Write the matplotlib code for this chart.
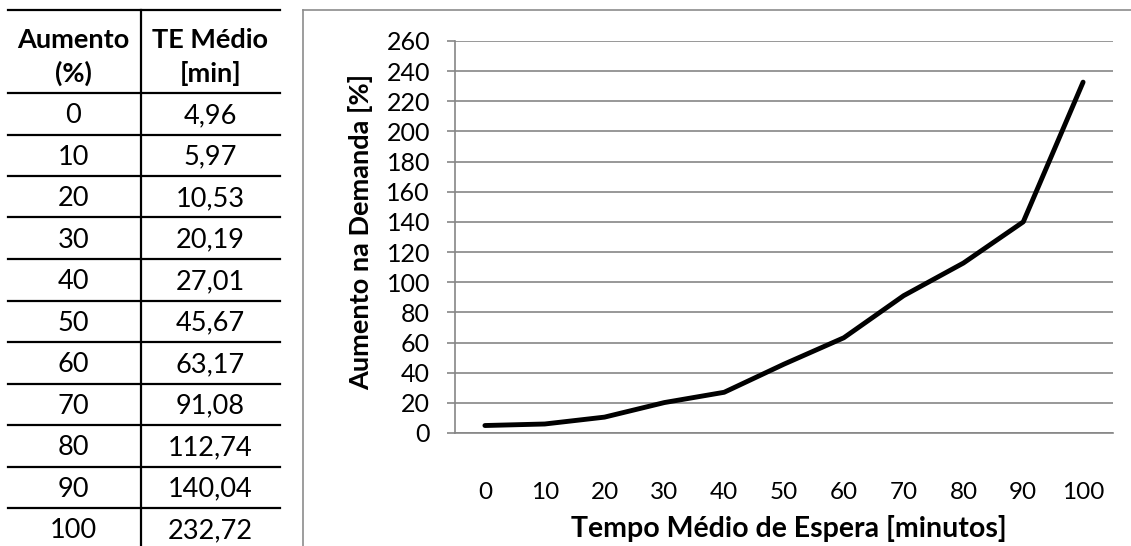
import matplotlib.pyplot as plt
from matplotlib.lines import Line2D

plt.rcParams['font.family'] = ['Lato', 'DejaVu Sans']

# Demand increase (%) and resulting mean waiting time (min)
aumento = [0, 10, 20, 30, 40, 50, 60, 70, 80, 90, 100]
te_medio = [4.96, 5.97, 10.53, 20.19, 27.01, 45.67, 63.17, 91.08, 112.74, 140.04, 232.72]
y_ticks = list(range(0, 261, 20))

W, H = 1131, 546
fig = plt.figure(figsize=(W / 100, H / 100), dpi=100)


def fx(px):
    return px / W


def fy(py):
    return 1 - py / H


# ---- table on the left ----
row_h = 41.5
head_top, head_bot = 10, 93
tab_l, tab_r, col_div = 8, 280, 141

hlines = [head_top, head_bot] + [head_bot + row_h * (i + 1) for i in range(len(aumento) - 1)]
for yy in hlines:
    fig.add_artist(Line2D([fx(tab_l), fx(tab_r)], [fy(yy), fy(yy)], color='black', lw=1.6))
fig.add_artist(Line2D([fx(col_div), fx(col_div)], [fy(head_top), fy(H + 5)], color='black', lw=1.6))

c1 = (tab_l + col_div) / 2 - 1
c2 = (col_div + tab_r) / 2
fig.text(fx(c1), fy(57), 'Aumento\n(%)', ha='center', va='center', fontsize=19.5,
         fontweight='bold', linespacing=1.4)
fig.text(fx(c2), fy(57), 'TE Médio\n[min]', ha='center', va='center', fontsize=19.5,
         fontweight='bold', linespacing=1.4)
for i, (a, t) in enumerate(zip(aumento, te_medio)):
    yc = head_bot + row_h * (i + 0.5) + 2
    fig.text(fx(c1), fy(yc), str(a), ha='center', va='center', fontsize=19.5)
    fig.text(fx(c2), fy(yc), f'{t:.2f}'.replace('.', ','), ha='center', va='center', fontsize=19.5)

# ---- chart frame ----
frame_col = '#8c8c8c'
fig.add_artist(Line2D([fx(303), fx(303)], [fy(10), fy(H + 5)], color=frame_col, lw=1.2))
fig.add_artist(Line2D([fx(303), fx(W + 5)], [fy(10), fy(10)], color=frame_col, lw=1.2))

# ---- line chart ----
ax_l, ax_r, ax_t, ax_b = 455, 1113, 41, 433
ax = fig.add_axes([fx(ax_l), fy(ax_b), (ax_r - ax_l) / W, (ax_b - ax_t) / H])

xs = list(range(len(aumento)))
ax.plot(xs, te_medio, color='black', lw=3.5, solid_capstyle='round', solid_joinstyle='round', zorder=3)

grid_col = '#868686'
ax.set_xlim(-0.5, len(aumento) - 0.5)
ax.set_ylim(0, 260)
ax.set_yticks(y_ticks)
ax.set_xticks(xs)
ax.set_xticklabels([str(a) for a in aumento])
ax.yaxis.grid(True, color=grid_col, lw=1.2)
ax.set_axisbelow(True)

for side in ['top', 'right']:
    ax.spines[side].set_visible(False)
ax.spines['left'].set_color(grid_col)
ax.spines['left'].set_linewidth(1.2)
ax.spines['bottom'].set_color(grid_col)
ax.spines['bottom'].set_linewidth(1.2)

ax.tick_params(axis='y', length=6, width=1.2, color=grid_col, pad=12, labelsize=18)
ax.tick_params(axis='x', length=0, pad=35, labelsize=17.5)

ax.set_ylabel('Aumento na Demanda [%]', fontsize=19.5, fontweight='bold')
ax.yaxis.set_label_coords((361 - ax_l) / (ax_r - ax_l), (ax_b - 232) / (ax_b - ax_t))
ax.yaxis.label.set_va('center')
ax.set_xlabel('Tempo Médio de Espera [minutos]', fontsize=20.5, fontweight='bold')
ax.xaxis.set_label_coords((789 - ax_l) / (ax_r - ax_l), (ax_b - 529) / (ax_b - ax_t))
ax.xaxis.label.set_va('center')

fig.savefig('out.png', dpi=100)
